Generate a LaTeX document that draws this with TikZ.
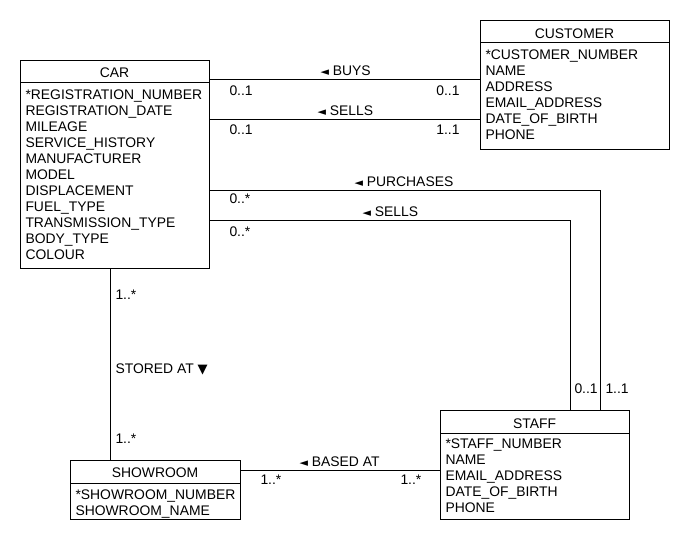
\documentclass[tikz,border=0pt]{standalone}
\usepackage{fontspec}
\setmainfont{Liberation Sans}
\newfontfamily\dejavu{DejaVu Sans}
\newcommand{\fs}{\fontsize{13.9}{16}\selectfont}
\newcommand{\tri}{{\dejavu\fontsize{11}{11}\selectfont ◄}}
\newcommand{\dtri}{{\dejavu\fontsize{13}{13}\selectfont ▼}}
\begin{document}
\begin{tikzpicture}[x=1pt,y=-1pt,line width=1pt,
  box/.style={draw,rectangle,inner sep=0,anchor=north west},
  attr/.style={anchor=base west,inner sep=0,font=\fs},
  ttl/.style={anchor=base,inner sep=0,font=\fs},
  lbl/.style={anchor=base west,inner sep=0,font=\fs},
  lblr/.style={anchor=base east,inner sep=0,font=\fs},
  conn/.style={draw,line width=1pt}]
\fill[white] (0,0) rectangle (690,540);
\useasboundingbox (0,0) rectangle (690,540);

% CAR
\node[box,minimum width=189pt,minimum height=208pt] (car) at (20,60) {};
\draw (car.north west |- 0,83) -- (car.north east |- 0,83);
\node[ttl] (cart) at (114.5,77.5) {CAR};
\foreach \t [count=\i] in {*REGISTRATION\_NUMBER,REGISTRATION\_DATE,MILEAGE,SERVICE\_HISTORY,MANUFACTURER,MODEL,DISPLACEMENT,FUEL\_TYPE,TRANSMISSION\_TYPE,BODY\_TYPE,COLOUR}
  \node[attr] (car-a\i) at (25,83.5+\i*16) {\t};

% CUSTOMER
\node[box,minimum width=189pt,minimum height=129pt] (cust) at (480,20) {};
\draw (cust.north west |- 0,43) -- (cust.north east |- 0,43);
\node[ttl] (custt) at (574.5,38.5) {CUSTOMER};
\foreach \t [count=\i] in {*CUSTOMER\_NUMBER,NAME,ADDRESS,EMAIL\_ADDRESS,DATE\_OF\_BIRTH,PHONE}
  \node[attr] (cust-a\i) at (485,43.5+\i*16) {\t};

% STAFF
\node[box,minimum width=189pt,minimum height=109pt] (staff) at (440,410) {};
\draw (staff.north west |- 0,433) -- (staff.north east |- 0,433);
\node[ttl] (stafft) at (534.5,428.5) {STAFF};
\foreach \t [count=\i] in {*STAFF\_NUMBER,NAME,EMAIL\_ADDRESS,DATE\_OF\_BIRTH,PHONE}
  \node[attr] (staff-a\i) at (445,432.5+\i*16) {\t};

% SHOWROOM
\node[box,minimum width=170pt,minimum height=59pt] (show) at (70,460) {};
\draw (show.north west |- 0,483) -- (show.north east |- 0,483);
\node[ttl] (showt) at (155,477.5) {SHOWROOM};
\foreach \t [count=\i] in {*SHOWROOM\_NUMBER,SHOWROOM\_NAME}
  \node[attr] (show-a\i) at (75,483.5+\i*16) {\t};

% connectors
\draw (car.east |- 0,80) -- (cust.west |- 0,80);
\draw (car.east |- 0,120) -- (cust.west |- 0,120);
\draw (car.east |- 0,190) -| (staff.north -| 600,0);
\draw (car.east |- 0,220) -| (staff.north -| 570,0);
\draw (car.south -| 110,0) -- (show.north -| 110,0);
\draw (show.east |- 0,470) -- (staff.west |- 0,470);

% labels
\node[lbl] (l1) at (320,76) {\tri\ BUYS};
\node[lbl] (l2) at (317,116) {\tri\ SELLS};
\node[lbl] (l3) at (354,186) {\tri\ PURCHASES};
\node[lbl] (l4) at (362,216) {\tri\ SELLS};
\node[lbl] (l5) at (299,466) {\tri\ BASED AT};
\node[lbl] (l6) at (115,373) {STORED AT \dtri};

% multiplicities
\node[lbl] (m1) at (229,96) {0..1};
\node[lblr] (m2) at (460,96) {0..1};
\node[lbl] (m3) at (229,135) {0..1};
\node[lblr] (m4) at (460,135) {1..1};
\node[lbl] (m5) at (229,204) {0..*};
\node[lbl] (m6) at (229,236) {0..*};
\node[lbl] (m7) at (574,393) {0..1};
\node[lbl] (m8) at (605,393) {1..1};
\node[lbl] (m9) at (115,299) {1..*};
\node[lbl] (m10) at (115,443) {1..*};
\node[lbl] (m11) at (260,484) {1..*};
\node[lbl] (m12) at (400,484) {1..*};
\end{tikzpicture}
\end{document}
